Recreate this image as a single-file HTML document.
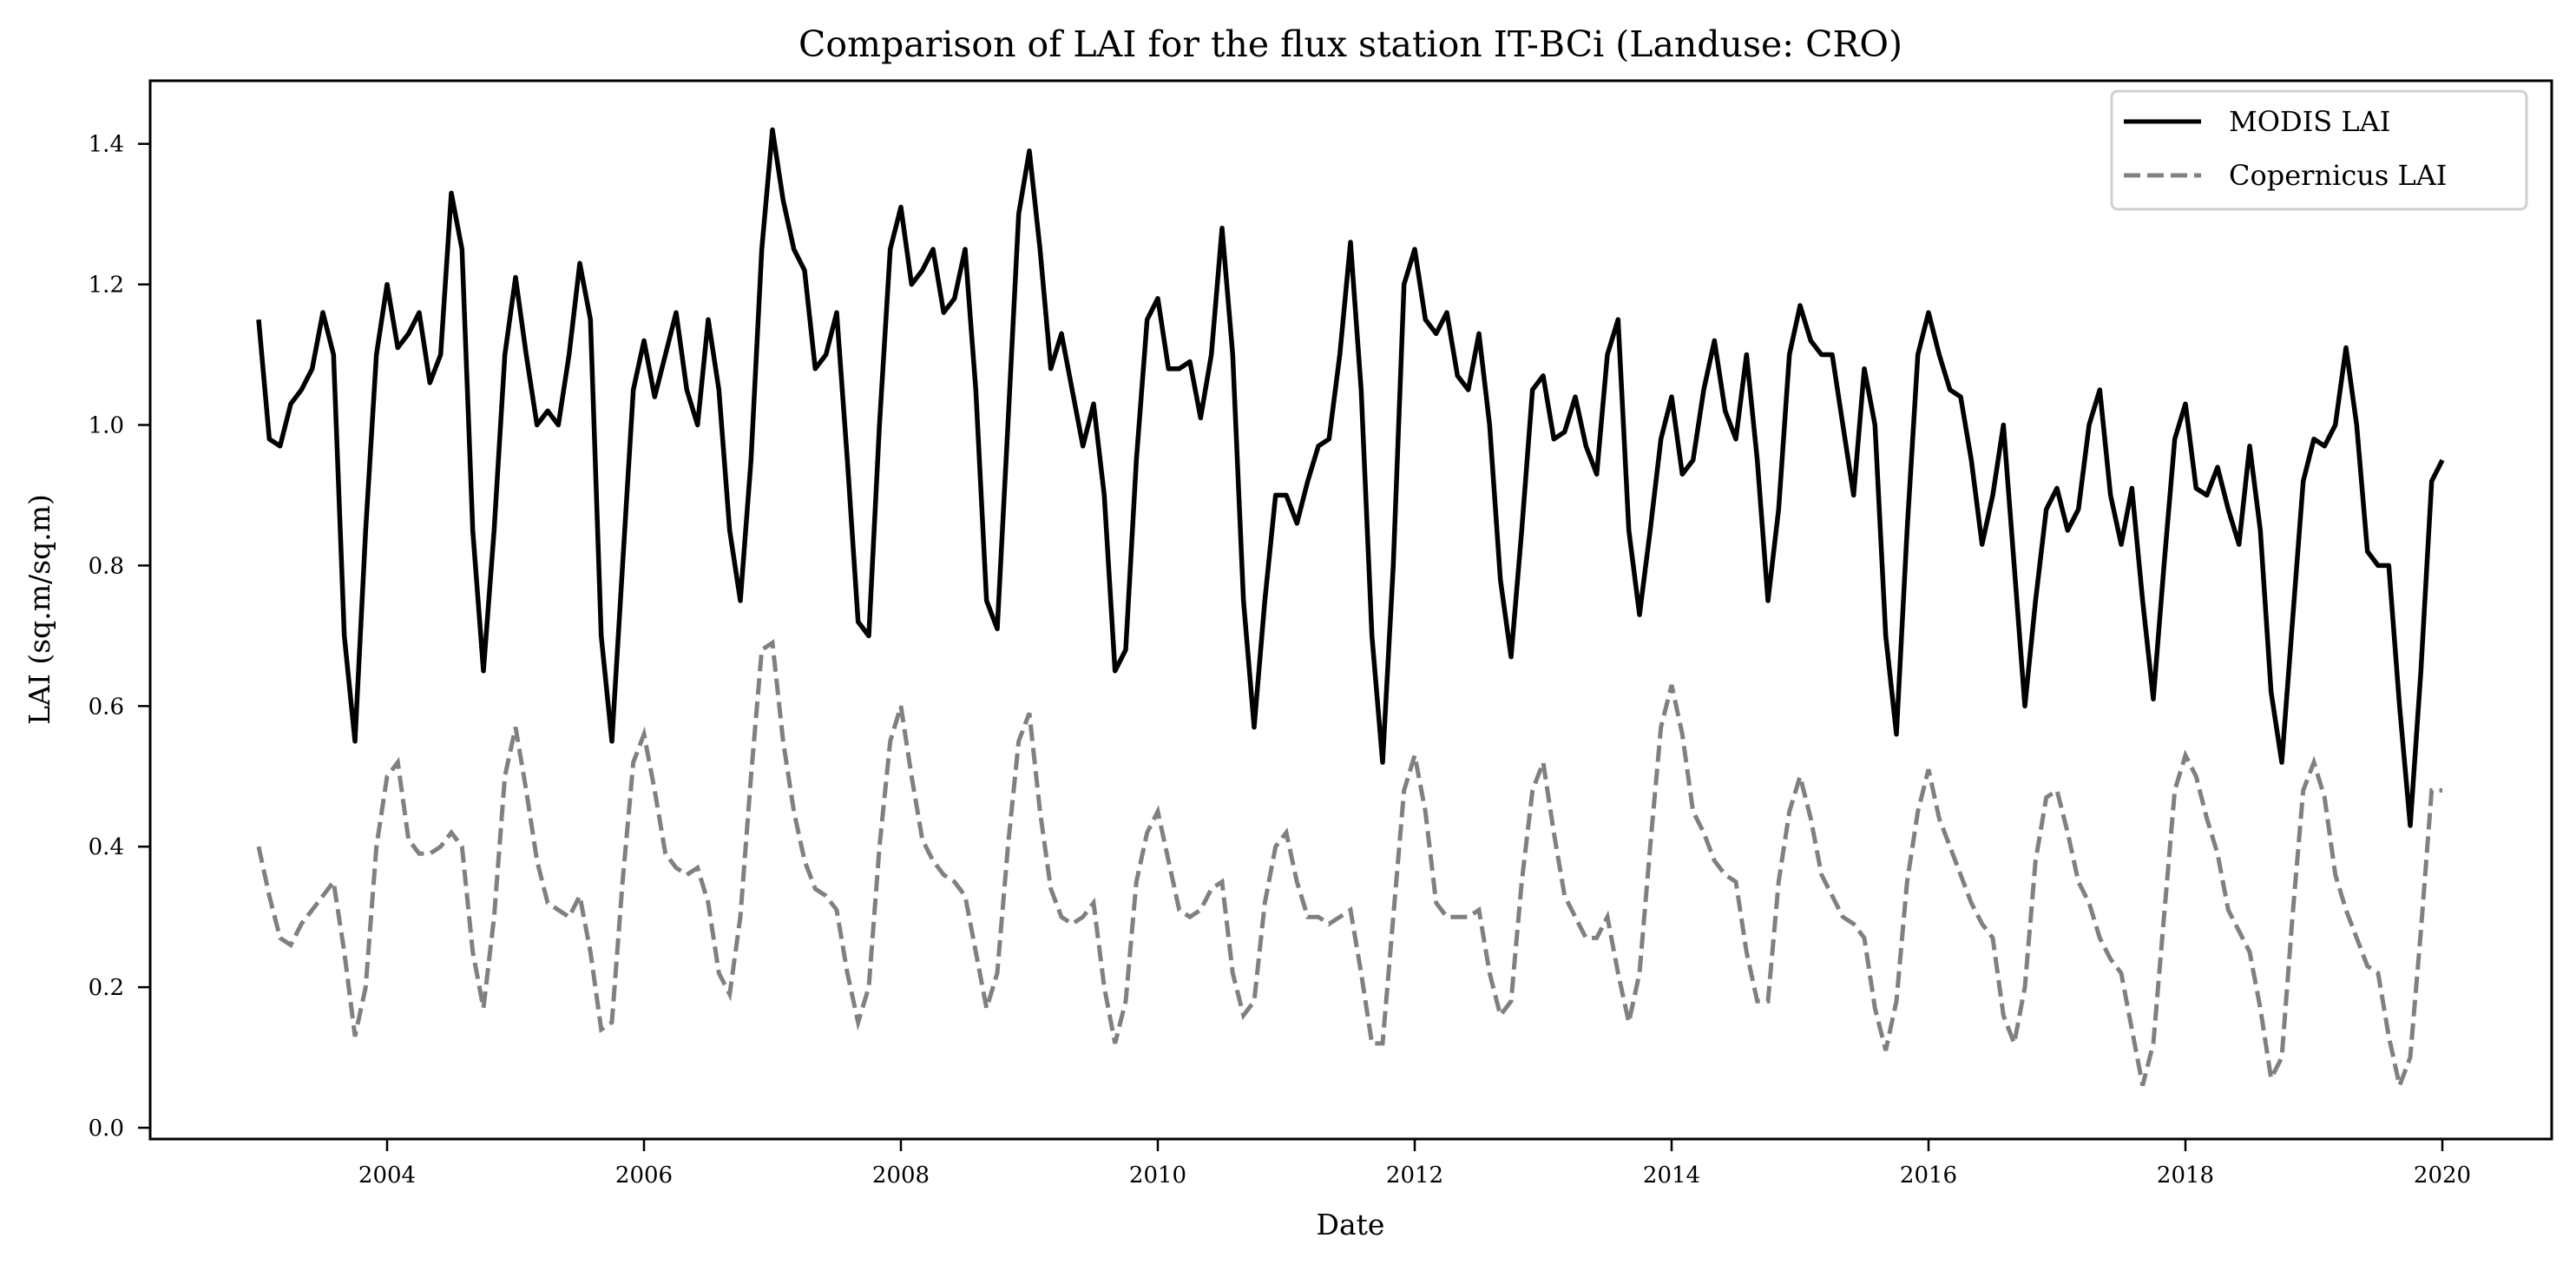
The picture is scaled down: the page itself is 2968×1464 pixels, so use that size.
<!DOCTYPE html>
<html><head><meta charset="utf-8">
<style>
html,body{margin:0;padding:0;background:#fff;}
svg{display:block;font-family:"DejaVu Serif","Liberation Serif",serif;}
</style></head>
<body>
<svg id="chart" width="2968" height="1464" viewBox="0 0 2968 1464" xmlns="http://www.w3.org/2000/svg">
<rect x="0" y="0" width="2968" height="1464" fill="#fff"/>
<text x="1556" y="65" font-size="41" text-anchor="middle" fill="#000">Comparison of LAI for the flux station IT-BCi (Landuse: CRO)</text>
<text x="1556" y="1422" font-size="33" text-anchor="middle" fill="#000">Date</text>
<text transform="translate(57,702) rotate(-90)" font-size="33" text-anchor="middle" fill="#000">LAI (sq.m/sq.m)</text>
<g id="ticks"></g>
<g id="series"></g>
<rect x="173" y="93" width="2767" height="1219" fill="none" stroke="#000" stroke-width="3"/>
<g>
<rect x="2433" y="105" width="478" height="136" rx="7" fill="#fff" fill-opacity="0.8" stroke="#d0d0d0" stroke-width="3"/>
<line x1="2447" y1="140" x2="2536" y2="140" stroke="#000" stroke-width="5"/>
<text x="2568" y="151" font-size="32" fill="#000">MODIS LAI</text>
<line x1="2447" y1="202" x2="2536" y2="202" stroke="#808080" stroke-width="5" stroke-dasharray="19,8"/>
<text x="2568" y="213" font-size="32" fill="#000">Copernicus LAI</text>
</g>
</svg>
<script>
const years = [2003,2004,2005,2006,2007,2008,2009,2010,2011,2012,2013,2014,2015,2016,2017,2018,2019];
const modis = [
[1.15,0.98,0.97,1.03,1.05,1.08,1.16,1.10,0.70,0.55,0.85,1.10],
[1.20,1.11,1.13,1.16,1.06,1.10,1.33,1.25,0.85,0.65,0.85,1.10],
[1.21,1.10,1.00,1.02,1.00,1.10,1.23,1.15,0.70,0.55,0.80,1.05],
[1.12,1.04,1.10,1.16,1.05,1.00,1.15,1.05,0.85,0.75,0.95,1.25],
[1.42,1.32,1.25,1.22,1.08,1.10,1.16,0.95,0.72,0.70,1.00,1.25],
[1.31,1.20,1.22,1.25,1.16,1.18,1.25,1.05,0.75,0.71,1.00,1.30],
[1.39,1.25,1.08,1.13,1.05,0.97,1.03,0.90,0.65,0.68,0.95,1.15],
[1.18,1.08,1.08,1.09,1.01,1.10,1.28,1.10,0.75,0.57,0.75,0.90],
[0.90,0.86,0.92,0.97,0.98,1.10,1.26,1.05,0.70,0.52,0.80,1.20],
[1.25,1.15,1.13,1.16,1.07,1.05,1.13,1.00,0.78,0.67,0.85,1.05],
[1.07,0.98,0.99,1.04,0.97,0.93,1.10,1.15,0.85,0.73,0.85,0.98],
[1.04,0.93,0.95,1.05,1.12,1.02,0.98,1.10,0.95,0.75,0.88,1.10],
[1.17,1.12,1.10,1.10,1.00,0.90,1.08,1.00,0.70,0.56,0.85,1.10],
[1.16,1.10,1.05,1.04,0.95,0.83,0.90,1.00,0.80,0.60,0.75,0.88],
[0.91,0.85,0.88,1.00,1.05,0.90,0.83,0.91,0.75,0.61,0.80,0.98],
[1.03,0.91,0.90,0.94,0.88,0.83,0.97,0.85,0.62,0.52,0.72,0.92],
[0.98,0.97,1.00,1.11,1.00,0.82,0.80,0.80,0.60,0.43,0.65,0.92]
];
const copernicus = [
[0.40,0.33,0.27,0.26,0.29,0.31,0.33,0.35,0.25,0.13,0.20,0.40],
[0.50,0.52,0.41,0.39,0.39,0.40,0.42,0.40,0.25,0.17,0.30,0.50],
[0.57,0.48,0.38,0.32,0.31,0.30,0.33,0.25,0.14,0.15,0.35,0.52],
[0.56,0.48,0.39,0.37,0.36,0.37,0.32,0.22,0.19,0.30,0.50,0.68],
[0.69,0.55,0.45,0.38,0.34,0.33,0.31,0.22,0.15,0.20,0.40,0.55],
[0.60,0.50,0.41,0.38,0.36,0.35,0.33,0.25,0.17,0.22,0.40,0.55],
[0.59,0.45,0.34,0.30,0.29,0.30,0.32,0.20,0.12,0.18,0.35,0.42],
[0.45,0.38,0.31,0.30,0.31,0.34,0.35,0.22,0.16,0.18,0.32,0.40],
[0.42,0.35,0.30,0.30,0.29,0.30,0.31,0.22,0.12,0.12,0.30,0.48],
[0.53,0.45,0.32,0.30,0.30,0.30,0.31,0.22,0.16,0.18,0.35,0.48],
[0.52,0.42,0.33,0.30,0.27,0.27,0.30,0.22,0.15,0.22,0.40,0.57],
[0.63,0.56,0.45,0.42,0.38,0.36,0.35,0.25,0.18,0.18,0.35,0.45],
[0.50,0.44,0.36,0.33,0.30,0.29,0.27,0.17,0.11,0.18,0.35,0.45],
[0.51,0.44,0.40,0.36,0.32,0.29,0.27,0.16,0.12,0.20,0.38,0.47],
[0.48,0.42,0.35,0.32,0.27,0.24,0.22,0.14,0.06,0.12,0.30,0.48],
[0.53,0.50,0.44,0.39,0.31,0.28,0.25,0.17,0.07,0.10,0.30,0.48],
[0.52,0.47,0.36,0.31,0.27,0.23,0.22,0.13,0.06,0.10,0.28,0.48]
];
const modisEnd = 0.95;
const copernicusEnd = 0.48;
const xTicks = [2004,2006,2008,2010,2012,2014,2016,2018,2020];
const yTicks = [0.0,0.2,0.4,0.6,0.8,1.0,1.2,1.4];

const NS = 'http://www.w3.org/2000/svg';
function xs(t){ return 446 + (t - 2004) * 148; }
function ys(v){ return 1299 - 809.5 * v; }

const tg = document.getElementById('ticks');
yTicks.forEach(v => {
  const l = document.createElementNS(NS,'line');
  l.setAttribute('x1',159); l.setAttribute('x2',173);
  l.setAttribute('y1',ys(v)); l.setAttribute('y2',ys(v));
  l.setAttribute('stroke','#000'); l.setAttribute('stroke-width','2.5');
  
  
  tg.appendChild(l);
  const t = document.createElementNS(NS,'text');
  t.setAttribute('x',143); t.setAttribute('y',ys(v)+9);
  t.setAttribute('font-size','26'); t.setAttribute('text-anchor','end');
  t.textContent = v.toFixed(1);
  
  
  tg.appendChild(t);
});
xTicks.forEach(y => {
  const l = document.createElementNS(NS,'line');
  l.setAttribute('x1',xs(y)); l.setAttribute('x2',xs(y));
  l.setAttribute('y1',1312); l.setAttribute('y2',1326);
  l.setAttribute('stroke','#000'); l.setAttribute('stroke-width','2.5');
  
  
  tg.appendChild(l);
  const t = document.createElementNS(NS,'text');
  t.setAttribute('x',xs(y)); t.setAttribute('y',1362);
  t.setAttribute('font-size','26'); t.setAttribute('text-anchor','middle');
  t.textContent = String(y);
  
  
  tg.appendChild(t);
});

function linePath(data, endVal){
  let d = '';
  years.forEach((yr, i) => {
    data[i].forEach((v, m) => {
      const t = yr + m / 12;
      d += (d === '' ? 'M' : ' L') + xs(t).toFixed(1) + ' ' + ys(v).toFixed(1);
    });
  });
  d += ' L' + xs(years[years.length-1] + 1).toFixed(1) + ' ' + ys(endVal).toFixed(1);
  return d;
}
const sg = document.getElementById('series');
const p2 = document.createElementNS(NS,'path');
p2.setAttribute('d', linePath(copernicus, copernicusEnd));
p2.setAttribute('fill','none'); p2.setAttribute('stroke','#808080');
p2.setAttribute('stroke-width','5'); p2.setAttribute('stroke-dasharray','19,8');


sg.appendChild(p2);
const p1 = document.createElementNS(NS,'path');
p1.setAttribute('d', linePath(modis, modisEnd));
p1.setAttribute('fill','none'); p1.setAttribute('stroke','#000');
p1.setAttribute('stroke-width','5.5'); p1.setAttribute('stroke-linejoin','round');


sg.appendChild(p1);
</script>
</body></html>
